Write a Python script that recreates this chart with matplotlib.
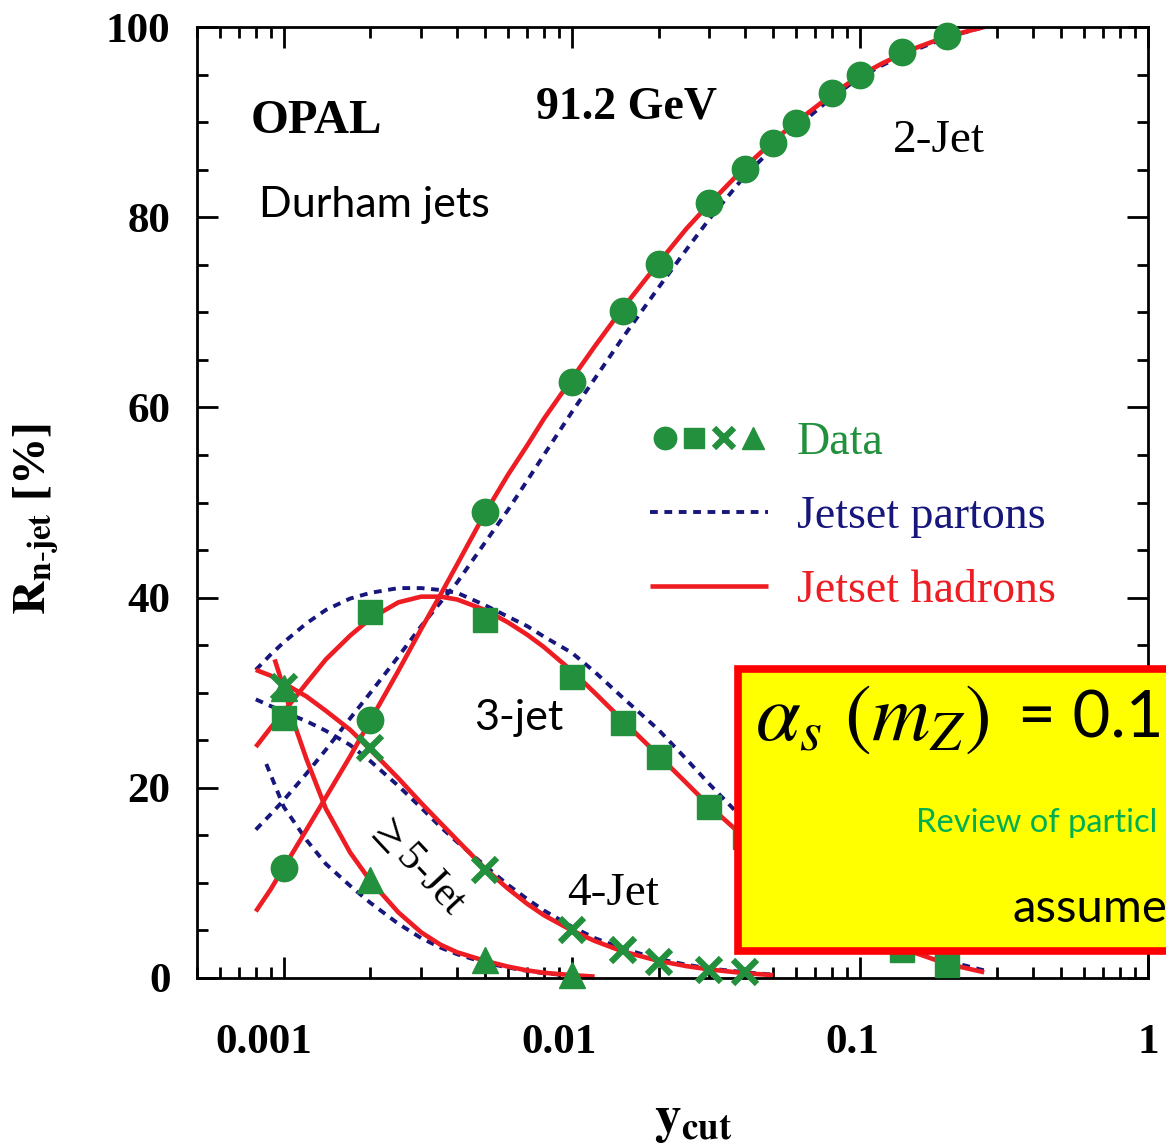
import numpy as np
import matplotlib
matplotlib.use('Agg')
import matplotlib.pyplot as plt
from matplotlib.patches import Rectangle
from matplotlib.legend_handler import HandlerTuple
from matplotlib.ticker import LogLocator, MultipleLocator, FixedFormatter, FixedLocator
from matplotlib.transforms import ScaledTranslation

plt.rcParams['font.family'] = ['Liberation Serif', 'DejaVu Serif']

# ---- data (91.2 GeV, Durham) ----
ycut_data = [0.001, 0.002, 0.005, 0.01, 0.015, 0.02, 0.03, 0.04, 0.05, 0.06, 0.08, 0.1, 0.14, 0.2]
r2_data = [11.6, 27.1, 49.0, 62.7, 70.1, 75.1, 81.5, 85.1, 87.8, 89.9, 93.1, 94.95, 97.4, 99.1]
r3_data = [27.3, 38.5, 37.6, 31.7, 26.8, 23.2, 18.0, 14.8, 12.0, 10.0, 7.0, 5.0, 2.9, 1.4]
ycut_4 = [0.001, 0.002, 0.005, 0.01, 0.015, 0.02, 0.03, 0.04]
r4_data = [30.6, 24.2, 11.4, 5.0, 2.9, 1.7, 0.85, 0.6]
ycut_5 = [0.001, 0.002, 0.005, 0.01]
r5_data = [30.5, 10.3, 1.9, 0.3]

# Jetset hadrons (solid red)
xg = [0.0008, 0.0009, 0.001, 0.0012, 0.0014, 0.0017, 0.002, 0.0025, 0.003, 0.0035, 0.004,
      0.005, 0.006, 0.007, 0.008, 0.01, 0.012, 0.015, 0.02, 0.025, 0.03, 0.04, 0.05, 0.06,
      0.08, 0.1, 0.12, 0.15, 0.2, 0.27]
had2 = [7.0, 9.3, 11.6, 15.6, 19.0, 23.3, 27.1, 32.3, 36.7, 40.3, 43.5,
        48.9, 52.9, 56.0, 58.8, 63.0, 66.4, 70.4, 75.2, 78.8, 81.4, 85.3, 88.0, 90.0,
        92.9, 94.9, 96.2, 97.6, 99.0, 100.0]
had3 = [24.3, 26.3, 28.0, 31.0, 33.5, 36.0, 37.8, 39.5, 40.1, 40.1, 39.8,
        38.7, 37.4, 36.1, 34.8, 32.3, 30.0, 27.1, 23.4, 20.5, 18.1, 14.7, 12.2, 10.3,
        7.4, 5.4, 4.1, 2.8, 1.5, 0.6]
xg4 = [0.0008, 0.0009, 0.001, 0.0012, 0.0014, 0.0017, 0.002, 0.0025, 0.003, 0.0035, 0.004,
       0.005, 0.006, 0.007, 0.008, 0.01, 0.012, 0.015, 0.02, 0.025, 0.03, 0.04, 0.05]
had4 = [32.4, 31.8, 31.0, 29.6, 28.1, 26.1, 24.0, 21.0, 18.4, 16.3, 14.5,
        11.5, 9.4, 7.8, 6.6, 5.0, 3.9, 2.8, 1.8, 1.25, 0.9, 0.5, 0.3]
xg5 = [0.00093, 0.001, 0.0011, 0.0012, 0.0014, 0.0017, 0.002, 0.0025, 0.003, 0.0035, 0.004,
       0.005, 0.006, 0.007, 0.008, 0.01, 0.012]
had5 = [33.5, 30.5, 26.3, 23.0, 17.8, 13.2, 10.2, 6.9, 4.8, 3.5, 2.7,
        1.8, 1.2, 0.8, 0.55, 0.3, 0.15]

# Jetset partons (dashed navy)
par2 = [15.6, 17.2, 18.7, 21.5, 24.0, 27.3, 30.0, 33.8, 37.0, 39.5, 41.6,
        45.8, 49.2, 52.3, 55.0, 59.5, 63.0, 67.3, 72.6, 76.6, 79.8, 84.4, 87.3, 89.4,
        92.6, 94.7, 96.0, 97.4, 98.9, 100.0]
par3 = [32.4, 34.0, 35.3, 37.3, 38.7, 39.9, 40.5, 41.0, 41.0, 40.8, 40.5,
        39.2, 38.0, 37.0, 35.9, 34.2, 32.2, 29.5, 26.1, 23.0, 20.4, 16.5, 13.6, 11.4,
        8.2, 6.0, 4.6, 3.2, 1.8, 0.8]
par4 = [29.3, 28.6, 28.0, 27.0, 26.0, 24.5, 22.8, 20.2, 17.9, 15.9, 14.3,
        11.8, 9.8, 8.3, 7.1, 5.4, 4.2, 3.1, 2.0, 1.4, 1.0, 0.6, 0.35]
xp5 = [0.00087, 0.001, 0.0012, 0.0014, 0.0017, 0.002, 0.0025, 0.003, 0.0035, 0.004,
       0.005, 0.006, 0.007, 0.008, 0.01]
par5 = [22.5, 18.0, 14.5, 12.0, 9.7, 7.9, 5.7, 4.2, 3.2, 2.5,
        1.6, 1.1, 0.75, 0.5, 0.25]

xtick_vals = [0.001, 0.01, 0.1, 1]
xtick_text = ['0.001', '0.01', '0.1', '1']

green = '#22903c'
navy = '#16167c'
red = '#ee1d23'

W, H = 1166, 1145
fig = plt.figure(figsize=(W / 100, H / 100), dpi=100)
ax = fig.add_axes([197 / W, 1 - 978 / H, (1148 - 197) / W, (978 - 27) / H])

dash = dict(color=navy, lw=2.8, dashes=(2.0, 1.7))
solid = dict(color=red, lw=3.3, solid_capstyle='butt')

p2, = ax.plot(xg, par2, **dash)
ax.plot(xg, par3, **dash)
ax.plot(xg4, par4, **dash)
ax.plot(xp5, par5, **dash)
h2, = ax.plot(xg, had2, **solid)
ax.plot(xg, had3, **solid)
ax.plot(xg4, had4, **solid)
ax.plot(xg5, had5, **solid)

m5, = ax.plot(ycut_5, r5_data, '^', color=green, ms=19, clip_on=False, zorder=5)
m4, = ax.plot(ycut_4, r4_data, 'x', color=green, ms=17, mew=4.5, clip_on=False, zorder=5)
m3, = ax.plot(ycut_data, r3_data, 's', color=green, ms=17, clip_on=False, zorder=5)
m2, = ax.plot(ycut_data, r2_data, 'o', color=green, ms=19, clip_on=False, zorder=5)

ax.set_xscale('log')
ax.set_xlim(0.0005, 1.0)
ax.set_ylim(0, 100)
ax.xaxis.set_major_locator(FixedLocator(xtick_vals))
ax.xaxis.set_major_formatter(FixedFormatter(xtick_text))
ax.xaxis.set_minor_locator(LogLocator(base=10, subs=np.arange(2, 10)))
ax.xaxis.set_minor_formatter(FixedFormatter([]))
ax.yaxis.set_major_locator(MultipleLocator(20))
ax.yaxis.set_minor_locator(MultipleLocator(5))

for s in ax.spines.values():
    s.set_linewidth(2.0)
ax.tick_params(which='both', direction='in', top=True, right=True, width=2.0)
ax.tick_params(which='major', length=15)
ax.tick_params(which='minor', length=8)
ax.tick_params(axis='x', which='major', pad=33)
ax.tick_params(axis='y', which='major', pad=19)
for lab in ax.get_xticklabels() + ax.get_yticklabels():
    lab.set_fontweight('bold')
    lab.set_fontsize(31)

ax.set_ylabel(r'$\mathbf{R}_{\mathbf{n\text{-}jet}}$ [%]', fontsize=34, fontweight='bold',
              math_fontfamily='stix')
ax.yaxis.set_label_coords(-0.143, 0.483)
ax.set_xlabel(r'$\mathbf{y}_{\mathbf{cut}}$', fontsize=38, fontweight='bold',
              math_fontfamily='stix')
ax.xaxis.set_label_coords(0.522, -0.125)

# annotations
ax.text(0.00077, 88.9, 'OPAL', fontsize=35, fontweight='bold')
ax.text(0.0075, 90.4, '91.2 GeV', fontsize=33, fontweight='bold')
ax.text(0.00082, 80.0, 'Durham jets', fontsize=31, family='Lato')
ax.text(0.13, 86.9, '2-Jet', fontsize=34)
ax.text(0.00457, 26.1, '3-jet', fontsize=31, family='Lato')
ax.text(0.0096, 7.7, '4-Jet', fontsize=34)
ax.text(0.0029, 11.9, r'$\geq$5-Jet', fontsize=30, rotation=-47, rotation_mode='anchor',
        ha='center', va='center', math_fontfamily='stix')

leg = ax.legend([(m2, m3, m4, m5), p2, h2], ['Data', 'Jetset partons', 'Jetset hadrons'],
                handler_map={tuple: HandlerTuple(ndivide=None, pad=0.0)},
                loc='upper left', bbox_to_anchor=(650 / W, 1 - 422 / H), bbox_transform=fig.transFigure,
                frameon=False, prop={'family': 'Liberation Serif', 'size': 33},
                handlelength=2.58, handletextpad=0.62, labelspacing=0.68,
                borderpad=0, borderaxespad=0, markerscale=0.85)
for t, c in zip(leg.get_texts(), [green, navy, red]):
    t.set_color(c)

# yellow overlay box, cut off by the right edge of the slide
fig.add_artist(Rectangle((738 / W, 1 - 951 / H), 500 / W, (951 - 669) / H,
                         transform=fig.transFigure, facecolor='#ffff00', edgecolor='#ff0000',
                         lw=5.5, zorder=10))
fig.text(755 / W, 1 - 740 / H, r'$\alpha_s\ (m_Z)$', fontsize=58,
         math_fontfamily='stix', zorder=11)
fig.text(1018 / W, 1 - 737 / H, '= 0.1', fontsize=47, family='Lato', zorder=11)
fig.text(916 / W, 1 - 832 / H, 'Review of particl', fontsize=23.5, family='Lato',
         color='#00b050', zorder=11)
fig.text(1012 / W, 1 - 922 / H, 'assume', fontsize=34, family='Lato', zorder=11)

# the x tick labels of the original sit a little left of their ticks
fig.canvas.draw()
for lab, dx in zip(ax.get_xticklabels(), [-20, -13, -8, 0]):
    lab.set_transform(lab.get_transform() + ScaledTranslation(dx / 100, 0, fig.dpi_scale_trans))

fig.savefig('out.png', dpi=100)
